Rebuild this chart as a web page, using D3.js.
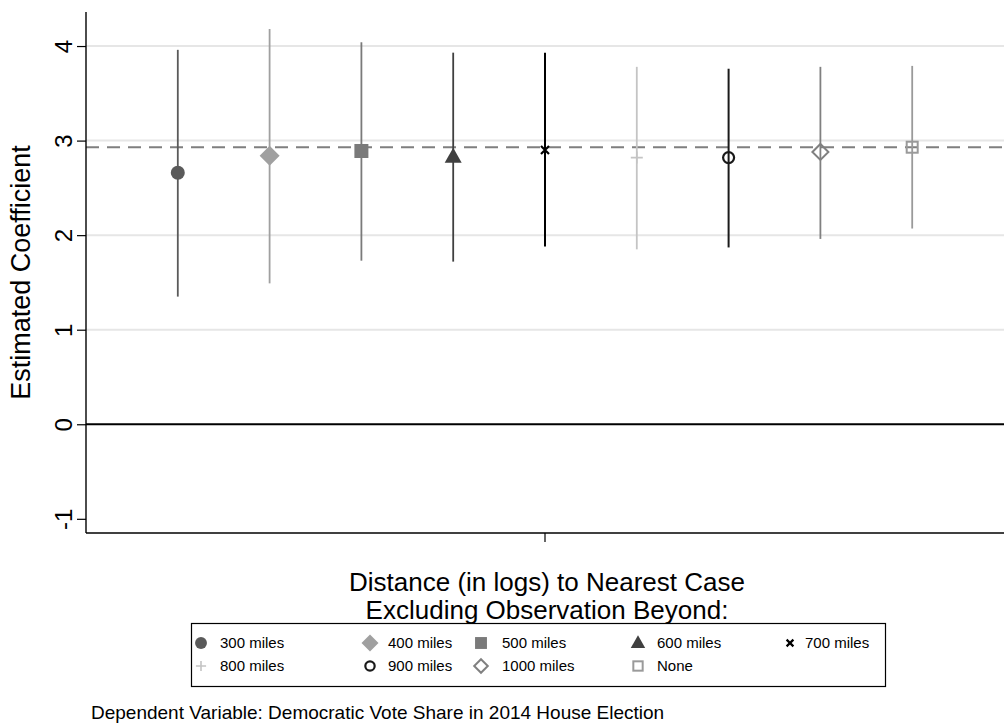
<!DOCTYPE html>
<html>
<head>
<meta charset="utf-8">
<script src="https://cdn.jsdelivr.net/npm/d3@7"></script>
<style>
  html, body { margin: 0; padding: 0; background: #fff; }
  svg { display: block; font-family: "Liberation Sans", Arial, Helvetica, sans-serif; }
</style>
</head>
<body>
<svg id="chart" width="1004" height="723"></svg>
<script>
// Coefficient estimates with 95% intervals, one per distance cutoff
const categories = ["300 miles", "400 miles", "500 miles", "600 miles", "700 miles",
                    "800 miles", "900 miles", "1000 miles", "None"];
const estimates = [2.66, 2.84, 2.89, 2.83, 2.90, 2.82, 2.82, 2.88, 2.93];
const lowerCI   = [1.35, 1.49, 1.73, 1.72, 1.88, 1.85, 1.87, 1.96, 2.07];
const upperCI   = [3.96, 4.18, 4.04, 3.93, 3.93, 3.78, 3.76, 3.78, 3.79];
const baseline  = 2.93;   // full-sample estimate (dashed reference line)
const yTicks    = [-1, 0, 1, 2, 3, 4];
const gridTicks = [1, 2, 3, 4];

// Marker style per series
const markerShape = ["circle", "diamond", "square", "triangle", "x",
                     "plus", "circleHollow", "diamondHollow", "squareHollow"];
const seriesColor = ["#5a5a5a", "#a0a0a0", "#7a7a7a", "#404040", "#000000",
                     "#c4c4c4", "#1a1a1a", "#808080", "#9a9a9a"];

const svg = d3.select("#chart");
const plot = { left: 86, right: 1004, top: 12, bottom: 533 };

const x = d3.scalePoint().domain(categories).range([plot.left, plot.right]).padding(1);
const y = d3.scaleLinear().domain([-1.15, 4.36]).range([plot.bottom, plot.top]);

// Horizontal grid lines
svg.append("g").selectAll("line").data(gridTicks).join("line")
  .attr("x1", plot.left).attr("x2", plot.right)
  .attr("y1", d => y(d)).attr("y2", d => y(d))
  .attr("stroke", "#e6e6e6").attr("stroke-width", 2);

// Zero line
svg.append("line")
  .attr("x1", plot.left).attr("x2", plot.right)
  .attr("y1", y(0)).attr("y2", y(0))
  .attr("stroke", "#000").attr("stroke-width", 2);

// Full-sample reference line
svg.append("line")
  .attr("x1", plot.left).attr("x2", plot.right)
  .attr("y1", y(baseline)).attr("y2", y(baseline))
  .attr("stroke", "#7f7f7f").attr("stroke-width", 2)
  .attr("stroke-dasharray", "13,8");

// Y axis
const yAxis = svg.append("g")
  .attr("transform", `translate(${plot.left},0)`)
  .call(d3.axisLeft(y).tickValues(yTicks).tickSize(9).tickSizeOuter(0).tickFormat(d => String(d)));
yAxis.select(".domain").attr("stroke", "#000").attr("stroke-width", 1.4)
  .attr("d", `M0,${plot.top}V${plot.bottom}`);
yAxis.selectAll(".tick line").attr("stroke", "#000").attr("stroke-width", 1.2);
yAxis.selectAll(".tick text")
  .attr("x", null).attr("dy", null)
  .attr("text-anchor", "middle")
  .attr("transform", "translate(-14,0) rotate(-90)")
  .attr("font-size", 24).attr("fill", "#000");

// X axis with a single centre tick
svg.append("line")
  .attr("x1", plot.left).attr("x2", plot.right)
  .attr("y1", plot.bottom).attr("y2", plot.bottom)
  .attr("stroke", "#000").attr("stroke-width", 1.4);
svg.append("line")
  .attr("x1", x(categories[4])).attr("x2", x(categories[4]))
  .attr("y1", plot.bottom).attr("y2", plot.bottom + 9)
  .attr("stroke", "#000").attr("stroke-width", 1.2);

// Axis titles
svg.append("text")
  .attr("transform", `translate(30,${(plot.top + plot.bottom) / 2}) rotate(-90)`)
  .attr("text-anchor", "middle").attr("font-size", 27).attr("fill", "#000")
  .text("Estimated Coefficient");
const xt = svg.append("text")
  .attr("text-anchor", "middle").attr("font-size", 26).attr("fill", "#000");
xt.append("tspan").attr("x", x(categories[4]) + 2).attr("y", 591).text("Distance (in logs) to Nearest Case");
xt.append("tspan").attr("x", x(categories[4]) + 2).attr("y", 619).text("Excluding Observation Beyond:");

// Confidence intervals
svg.append("g").selectAll("line").data(categories).join("line")
  .attr("x1", d => x(d)).attr("x2", d => x(d))
  .attr("y1", (d, i) => y(lowerCI[i])).attr("y2", (d, i) => y(upperCI[i]))
  .attr("stroke", (d, i) => seriesColor[i])
  .attr("stroke-width", (d, i) => (i === 4 || i === 6) ? 2 : 1.8);

// Marker drawing
function drawMarker(g, shape, color, scale) {
  const s = scale || 1;
  switch (shape) {
    case "circle":
      g.append("circle").attr("r", 7 * s).attr("fill", color); break;
    case "diamond":
      g.append("path").attr("d", d3.symbol(d3.symbolSquare, 200 * s * s)())
        .attr("transform", "rotate(45)").attr("fill", color); break;
    case "square":
      g.append("rect").attr("x", -7 * s).attr("y", -7 * s)
        .attr("width", 14 * s).attr("height", 14 * s).attr("fill", color); break;
    case "triangle":
      g.append("path").attr("d", `M0,${-9 * s}L${8.5 * s},${6 * s}L${-8.5 * s},${6 * s}Z`)
        .attr("fill", color); break;
    case "x":
      g.append("path").attr("d", `M${-4 * s},${-4 * s}L${4 * s},${4 * s}M${4 * s},${-4 * s}L${-4 * s},${4 * s}`)
        .attr("stroke", color).attr("stroke-width", 2.2); break;
    case "plus":
      g.append("path").attr("d", `M${-6 * s},0H${6 * s}M0,${-6 * s}V${6 * s}`)
        .attr("stroke", color).attr("stroke-width", 1.6); break;
    case "circleHollow":
      g.append("circle").attr("r", 5.5 * s).attr("fill", "none")
        .attr("stroke", color).attr("stroke-width", 2.2); break;
    case "diamondHollow":
      g.append("path").attr("d", `M0,${-8 * s}L${8 * s},0L0,${8 * s}L${-8 * s},0Z`)
        .attr("fill", "none").attr("stroke", color).attr("stroke-width", 2); break;
    case "squareHollow":
      g.append("rect").attr("x", -5.5 * s).attr("y", -5.5 * s)
        .attr("width", 11 * s).attr("height", 11 * s).attr("fill", "none")
        .attr("stroke", color).attr("stroke-width", 2); break;
  }
}

// Point estimates
categories.forEach((c, i) => {
  const g = svg.append("g").attr("transform", `translate(${x(c)},${y(estimates[i])})`);
  drawMarker(g, markerShape[i], seriesColor[i], 1);
});

// Legend
const legend = svg.append("g");
legend.append("rect")
  .attr("x", 191.5).attr("y", 623.5).attr("width", 694).attr("height", 63)
  .attr("fill", "#fff").attr("stroke", "#000").attr("stroke-width", 1.2);
const colX = [201, 370, 481, 638, 790];
const textX = [220, 388, 502, 657, 805];
const rowY = [643, 666];
categories.forEach((c, i) => {
  const col = i % 5, row = Math.floor(i / 5);
  const g = legend.append("g").attr("transform", `translate(${colX[col]},${rowY[row]})`);
  drawMarker(g, markerShape[i], seriesColor[i], 0.85);
  legend.append("text").attr("x", textX[col]).attr("y", rowY[row] + 5.2)
    .attr("font-size", 15).attr("fill", "#000").text(c);
});

// Note
svg.append("text").attr("x", 91).attr("y", 719)
  .attr("font-size", 19).attr("fill", "#000")
  .text("Dependent Variable: Democratic Vote Share in 2014 House Election");
</script>
</body>
</html>
